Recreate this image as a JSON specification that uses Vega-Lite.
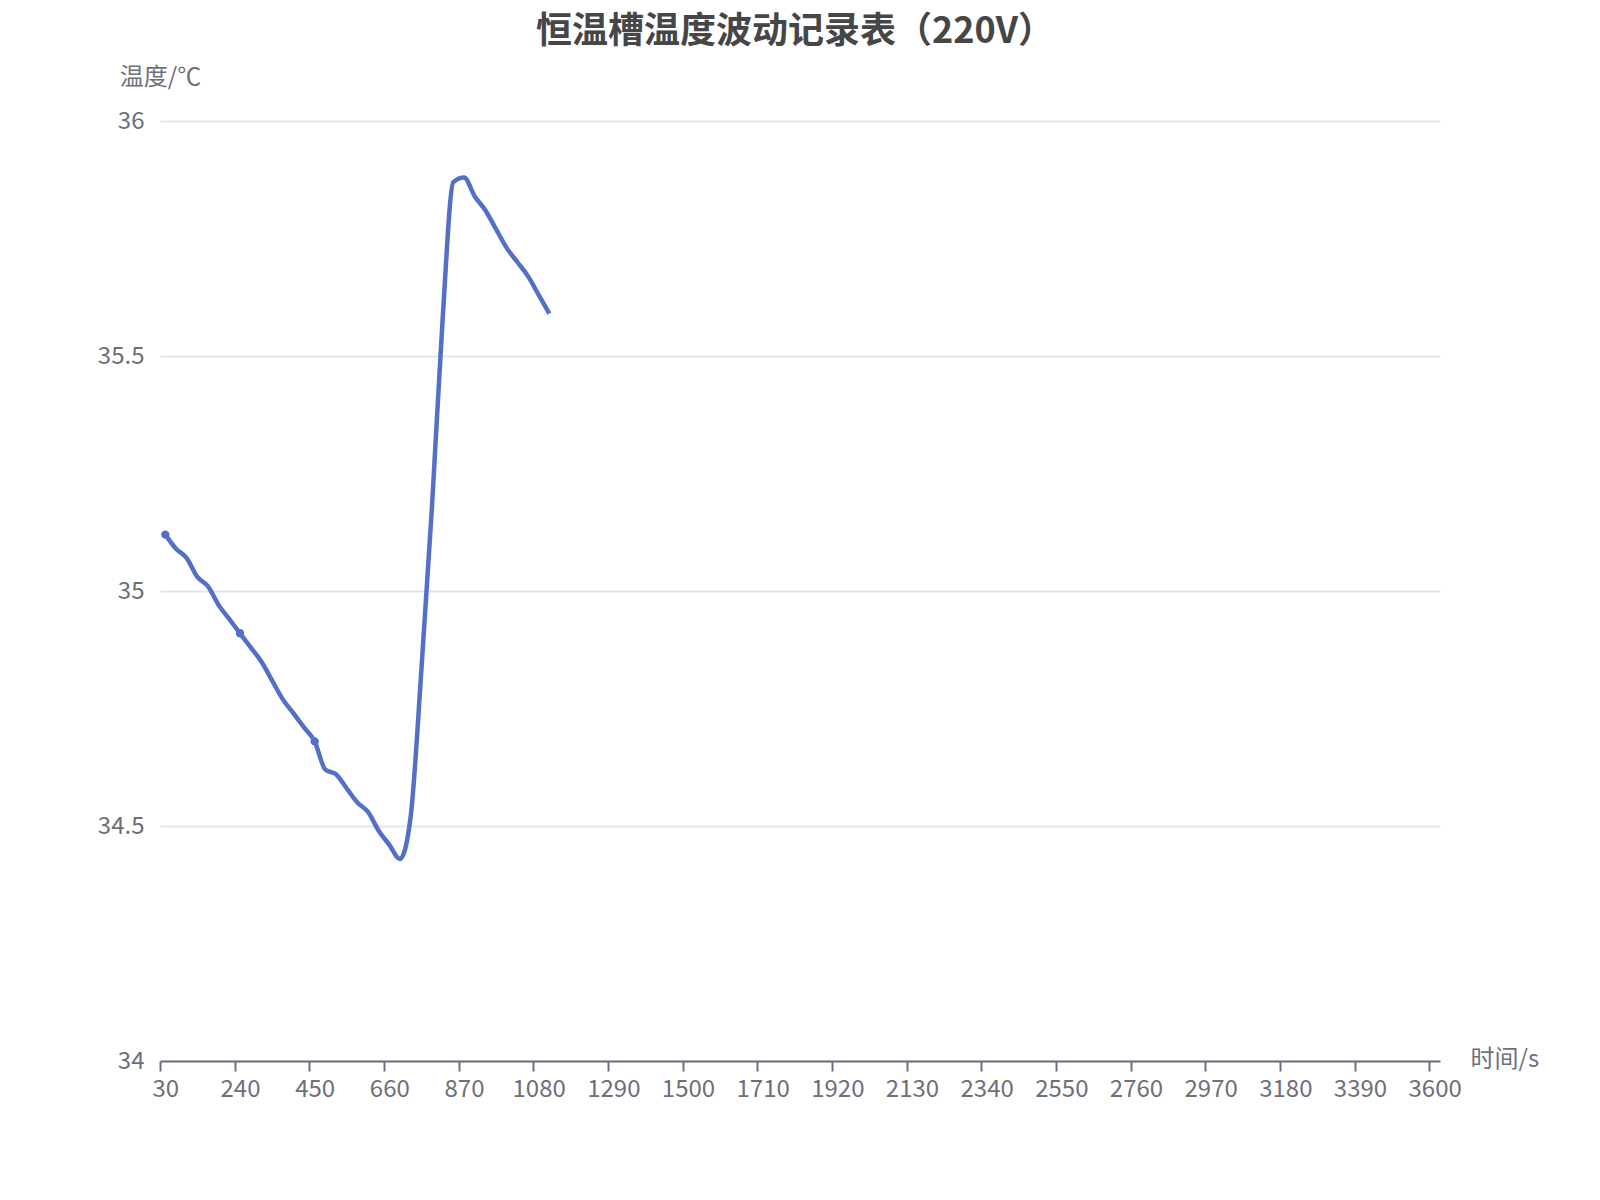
{
  "$schema": "https://vega.github.io/schema/vega-lite/v6.json",
  "description": "Temperature fluctuation of a thermostatic bath (220V).",
  "title": {
    "text": "恒温槽温度波动记录表（220V）",
    "anchor": "middle",
    "frame": "group",
    "dx": -5,
    "offset": 14,
    "fontSize": 36,
    "fontWeight": "bold",
    "color": "#464646",
    "font": "Noto Sans CJK SC"
  },
  "width": 1280,
  "height": 940,
  "autosize": {"type": "none"},
  "padding": {"left": 160, "top": 121, "right": 160, "bottom": 139},
  "background": "white",
  "data": {
    "values": [
      {"time": 30, "temp": 35.12},
      {"time": 60, "temp": 35.09},
      {"time": 90, "temp": 35.07},
      {"time": 120, "temp": 35.03},
      {"time": 150, "temp": 35.01},
      {"time": 180, "temp": 34.97},
      {"time": 210, "temp": 34.94},
      {"time": 240, "temp": 34.91},
      {"time": 270, "temp": 34.88},
      {"time": 300, "temp": 34.85},
      {"time": 330, "temp": 34.81},
      {"time": 360, "temp": 34.77},
      {"time": 390, "temp": 34.74},
      {"time": 420, "temp": 34.71},
      {"time": 450, "temp": 34.68},
      {"time": 480, "temp": 34.62},
      {"time": 510, "temp": 34.61},
      {"time": 540, "temp": 34.58},
      {"time": 570, "temp": 34.55},
      {"time": 600, "temp": 34.53},
      {"time": 630, "temp": 34.49},
      {"time": 660, "temp": 34.46},
      {"time": 690, "temp": 34.43},
      {"time": 720, "temp": 34.52},
      {"time": 750, "temp": 34.83},
      {"time": 780, "temp": 35.18},
      {"time": 810, "temp": 35.58},
      {"time": 840, "temp": 35.87},
      {"time": 870, "temp": 35.88},
      {"time": 900, "temp": 35.84},
      {"time": 930, "temp": 35.81},
      {"time": 960, "temp": 35.77},
      {"time": 990, "temp": 35.73},
      {"time": 1020, "temp": 35.7},
      {"time": 1050, "temp": 35.67},
      {"time": 1080, "temp": 35.63},
      {"time": 1110, "temp": 35.59}
    ]
  },
  "encoding": {
    "x": {
      "field": "time",
      "type": "quantitative",
      "scale": {"domain": [15, 3615], "nice": false, "zero": false},
      "axis": {
        "title": "时间/s",
        "titleX": 1310,
        "titleY": -2,
        "titleAlign": "left",
        "titleBaseline": "middle",
        "titleFontSize": 24,
        "titleFontWeight": "normal",
        "titleColor": "#6E7079",
        "values": [30, 240, 450, 660, 870, 1080, 1290, 1500, 1710, 1920, 2130, 2340, 2550, 2760, 2970, 3180, 3390, 3600],
        "format": "d",
        "tickOffset": -5.33,
        "labelOffset": 5.33,
        "tickSize": 10,
        "tickWidth": 2,
        "tickColor": "#6E7079",
        "domainColor": "#6E7079",
        "domainWidth": 2,
        "labelPadding": 6,
        "labelFontSize": 24,
        "labelColor": "#6E7079",
        "labelFlush": false,
        "labelOverlap": false,
        "grid": false
      }
    },
    "y": {
      "field": "temp",
      "type": "quantitative",
      "scale": {"domain": [34, 36], "nice": false, "zero": false},
      "axis": {
        "title": "温度/℃",
        "titleAngle": 0,
        "titleX": 0,
        "titleY": -44,
        "titleAlign": "center",
        "titleBaseline": "middle",
        "titleFontSize": 24,
        "titleFontWeight": "normal",
        "titleColor": "#6E7079",
        "values": [34, 34.5, 35, 35.5, 36],
        "format": "~g",
        "domain": false,
        "ticks": false,
        "labelPadding": 16,
        "labelFontSize": 24,
        "labelColor": "#6E7079",
        "labelFlush": false,
        "gridColor": "#E0E6F1",
        "gridWidth": 2
      }
    }
  },
  "layer": [
    {
      "mark": {"type": "line", "color": "#5470C6", "strokeWidth": 4.5, "interpolate": "monotone"}
    },
    {
      "transform": [{"filter": "datum.time == 30 || datum.time == 240 || datum.time == 450"}],
      "mark": {"type": "point", "filled": true, "color": "#5470C6", "size": 70, "opacity": 1}
    }
  ],
  "config": {
    "font": "Noto Sans CJK SC",
    "view": {"stroke": null}
  }
}
